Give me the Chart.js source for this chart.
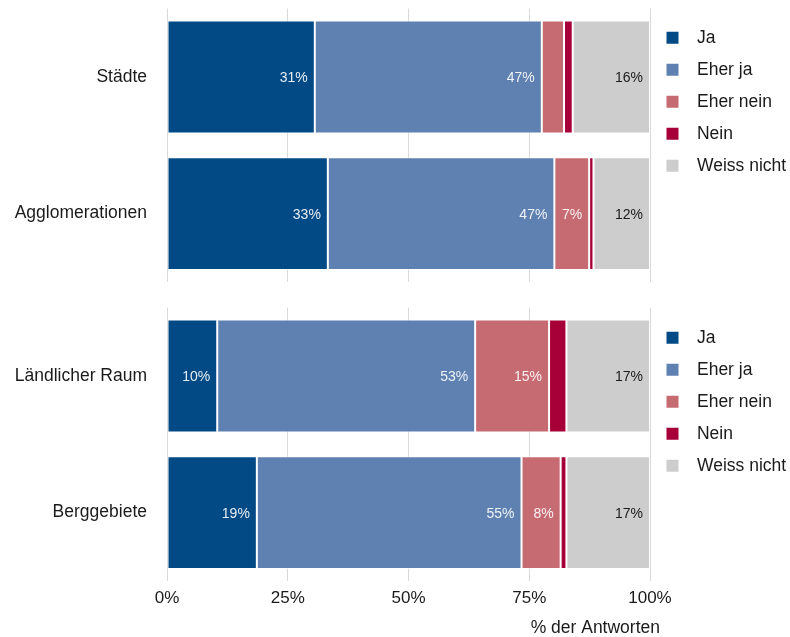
<!DOCTYPE html>
<html>
<head>
<meta charset="utf-8">
<script src="https://cdn.jsdelivr.net/npm/chart.js@4"></script>
<style>
  body { margin: 0; background: #fff; }
  .panel { position: absolute; left: 0; width: 790px; }
</style>
</head>
<body>
<div class="panel" style="top:0;height:296px"><canvas id="chartTop" width="790" height="296"></canvas></div>
<div class="panel" style="top:296px;height:341px"><canvas id="chartBottom" width="790" height="341"></canvas></div>
<script>
// --- data ---
const seriesNames = ['Ja', 'Eher ja', 'Eher nein', 'Nein', 'Weiss nicht'];
const seriesColors = ['#024a86', '#5e81b1', '#c76b73', '#a70038', '#cdcdcd'];

const categoriesTop = ['Städte', 'Agglomerationen'];
const jaTop = [30.6, 33.3];
const eherJaTop = [47.0, 46.9];
const eherNeinTop = [4.6, 7.2];
const neinTop = [1.8, 0.9];
const weissNichtTop = [16.0, 11.7];

const categoriesBottom = ['Ländlicher Raum', 'Berggebiete'];
const jaBottom = [10.4, 18.6];
const eherJaBottom = [53.4, 54.8];
const eherNeinBottom = [15.3, 8.1];
const neinBottom = [3.6, 1.2];
const weissNichtBottom = [17.3, 17.3];

const xTicks = [0, 25, 50, 75, 100];
const axisTitle = '% der Antworten';

Chart.defaults.font.family = "'Liberation Sans', Arial, sans-serif";
Chart.defaults.color = '#1a1a1a';

// legend placement + in-bar labels + axis title
function panelPlugin(legendTop, showTitle) {
    return {
        id: 'panelTweaks',
        beforeLayout(chart) {
            const lg = chart.legend;
            if (lg && !lg._patched) {
                const fit = lg.fit;
                lg.fit = function () { fit.call(this); this.width = 140; };
                lg._patched = true;
            }
        },
        afterLayout(chart) {
            const lg = chart.legend;
            lg.left = 652;
            lg.right = 790;
            lg.top = legendTop;
        },
        afterDatasetsDraw(chart) {
            const ctx = chart.ctx;
            ctx.save();
            ctx.font = "14px 'Liberation Sans', Arial, sans-serif";
            ctx.textAlign = 'right';
            ctx.textBaseline = 'middle';
            chart.data.datasets.forEach((ds, i) => {
                const meta = chart.getDatasetMeta(i);
                meta.data.forEach((el, j) => {
                    const v = ds.data[j];
                    if (v < 5) return;
                    ctx.fillStyle = i === 4 ? '#1a1a1a' : 'rgba(255,255,255,0.9)';
                    ctx.fillText(Math.round(v) + '%', el.x - 7, el.y + 1);
                });
            });
            ctx.restore();
        },
        afterDraw(chart) {
            if (!showTitle) return;
            const ctx = chart.ctx;
            ctx.save();
            ctx.font = "17.5px 'Liberation Sans', Arial, sans-serif";
            ctx.fillStyle = '#1a1a1a';
            ctx.textAlign = 'right';
            ctx.textBaseline = 'middle';
            ctx.fillText(axisTitle, chart.chartArea.right + 10, chart.chartArea.bottom + 47.5);
            ctx.restore();
        }
    };
}

function makeChart(id, categories, values, isBottom) {
    const datasets = seriesNames.map((name, i) => ({
        label: name,
        data: values[i],
        backgroundColor: seriesColors[i],
        borderColor: 'rgba(255,255,255,0.7)',
        borderWidth: 1,
        borderSkipped: false,
        barPercentage: 0.826,
        categoryPercentage: 1
    }));
    return new Chart(document.getElementById(id), {
        type: 'bar',
        data: { labels: categories, datasets: datasets },
        options: {
            indexAxis: 'y',
            responsive: false,
            animation: false,
            layout: { padding: isBottom ? { top: 11.6, bottom: 0, left: 0, right: 0 } : { top: 8.6, bottom: 14, left: 0, right: 0 } },
            scales: {
                x: {
                    stacked: true,
                    min: 0,
                    max: 100,
                    afterBuildTicks: s => { s.ticks = xTicks.map(v => ({ value: v })); },
                    afterFit: s => { s.height = isBottom ? 56 : 0; },
                    grid: { color: '#d9d9d9', lineWidth: 1, drawTicks: false },
                    border: { display: false },
                    ticks: {
                        display: isBottom,
                        padding: 7,
                        font: { size: 17 },
                        color: '#1a1a1a',
                        callback: v => v + '%'
                    }
                },
                y: {
                    stacked: true,
                    afterFit: s => { s.width = 167; s.paddingTop = 0; s.paddingBottom = 0; },
                    grid: { display: false, drawTicks: false },
                    border: { display: false },
                    ticks: { padding: 20, font: { size: 17.5 }, color: '#1a1a1a' }
                }
            },
            plugins: {
                tooltip: { enabled: false },
                legend: {
                    position: 'right',
                    align: 'start',
                    labels: {
                        boxWidth: 12,
                        boxHeight: 12,
                        padding: 14.5,
                        font: { size: 17.5 },
                        color: '#1a1a1a',
                        generateLabels: chart => Chart.defaults.plugins.legend.labels.generateLabels(chart).map(item => {
                            item.text = '  ' + item.text;
                            item.lineWidth = 0;
                            item.strokeStyle = item.fillStyle;
                            return item;
                        })
                    }
                }
            }
        },
        plugins: [panelPlugin(isBottom ? 18.6 : 14.6, isBottom)]
    });
}

makeChart('chartTop', categoriesTop,
    [jaTop, eherJaTop, eherNeinTop, neinTop, weissNichtTop], false);
makeChart('chartBottom', categoriesBottom,
    [jaBottom, eherJaBottom, eherNeinBottom, neinBottom, weissNichtBottom], true);
</script>
</body>
</html>
